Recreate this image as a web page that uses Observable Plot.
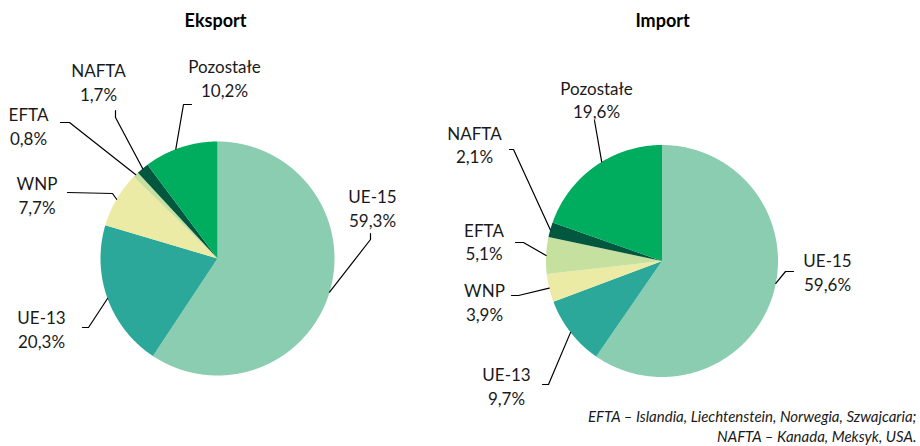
<!DOCTYPE html>
<html>
<head>
<meta charset="utf-8">
<script src="https://cdn.jsdelivr.net/npm/d3@7"></script>
<script src="https://cdn.jsdelivr.net/npm/@observablehq/plot@0.6"></script>
<style>
  html, body { margin: 0; padding: 0; background: #fff; }
  #chart svg { display: block; }
</style>
</head>
<body>
<div id="chart"></div>
<script>
// ---- data ----
const categories = ["UE-15", "UE-13", "WNP", "EFTA", "NAFTA", "Pozostałe"];
const exportValues = [59.3, 20.3, 7.7, 0.8, 1.7, 10.2];
const importValues = [59.6, 9.7, 3.9, 5.1, 2.1, 19.6];
const pieTitles = ["Eksport", "Import"];
const footnote = ["EFTA – Islandia, Liechtenstein, Norwegia, Szwajcaria;", "NAFTA – Kanada, Meksyk, USA."];

// ---- styles ----
const colors = ["#8bcdb1", "#2ca89a", "#ebeba5", "#c6e09f", "#01583f", "#00ad5f"];

// ---- layout (pixels) ----
const pieLayout = [
  { cx: 217, cy: 258, r: 117, titleX: 215, titleY: 21,
    labels: [
      { tx: 372, ty: 207, p: [[370, 233], [370, 239]] },
      { tx: 41, ty: 328, p: [[82, 327], [88, 327]] },
      { tx: 36.5, ty: 194, p: [[67, 192], [112, 193]] },
      { tx: 28, ty: 124.5, p: [[60, 122], [69, 122]] },
      { tx: 98, ty: 81, p: [[115, 110], [115, 117]] },
      { tx: 224, ty: 77, p: [[191, 104], [183, 104]], at: 0.942 }
    ] },
  { cx: 661.5, cy: 260.5, r: 116, titleX: 662, titleY: 21,
    labels: [
      { tx: 827, ty: 270.5, p: [[793, 271], [785, 271]], at: 0.281 },
      { tx: 506, ty: 384.7, p: [[542, 384], [548, 384]] },
      { tx: 484, ty: 301, p: [[511, 295], [518, 295]] },
      { tx: 483.5, ty: 240.3, p: [[515, 242], [523, 242]] },
      { tx: 474, ty: 143.3, p: [[509, 149], [513, 149]] },
      { tx: 596, ty: 98.3, p: [[594, 120]], at: 0.913 }
    ] }
];

const fmt = v => v.toFixed(1).replace(".", ",") + "%";
const seriesValues = [exportValues, importValues];

const slicePts = [];
const leaderPts = [];
const labels = [];
const titles = [];

seriesValues.forEach((vals, pi) => {
  const L = pieLayout[pi];
  const arcs = d3.pie().sort(null).value(d => d)(vals);
  titles.push({ x: L.titleX, y: L.titleY, text: pieTitles[pi] });
  arcs.forEach((a, i) => {
    const key = pi + "-" + i;
    const cat = categories[i];
    const pt = ang => [L.cx + L.r * Math.sin(ang), L.cy - L.r * Math.cos(ang)];
    slicePts.push({ key, cat, x: L.cx, y: L.cy });
    const n = Math.max(2, Math.ceil((a.endAngle - a.startAngle) / (Math.PI / 360)));
    for (let k = 0; k <= n; k++) {
      const ang = a.startAngle + (a.endAngle - a.startAngle) * k / n;
      const [x, y] = pt(ang);
      slicePts.push({ key, cat, x, y });
    }
    slicePts.push({ key, cat, x: L.cx, y: L.cy });
    const lab = L.labels[i];
    const endAng = lab.at != null ? lab.at * 2 * Math.PI : (a.startAngle + a.endAngle) / 2;
    const e = pt(endAng);
    lab.p.concat([e]).forEach(([x, y]) => leaderPts.push({ key, x, y }));
    labels.push({ x: lab.tx, y: lab.ty, text: cat + "\n" + fmt(vals[i]) });
  });
});

const font = "Lato, 'Open Sans', sans-serif";

const chart = Plot.plot({
  width: 920,
  height: 446,
  margin: 0,
  style: { fontFamily: font, background: "#fff" },
  x: { domain: [0, 920], range: [0, 920], axis: null },
  y: { domain: [0, 446], range: [0, 446], axis: null },
  color: { domain: categories, range: colors },
  marks: [
    Plot.line(slicePts, { x: "x", y: "y", z: "key", fill: "cat", stroke: "none", curve: "linear" }),
    Plot.line(leaderPts, { x: "x", y: "y", z: "key", stroke: "#000", strokeWidth: 1.2, fill: "none" }),
    Plot.text(labels, { x: "x", y: "y", text: "text", fontSize: 17, lineHeight: 1.4, fill: "#1a1a1a", textAnchor: "middle" }),
    Plot.text(titles, { x: "x", y: "y", text: "text", fontSize: 18, fontWeight: "bold", fill: "#000" }),
    Plot.text([footnote.join("\n")], { x: 916, y: 425, text: d => d, textAnchor: "end", fontSize: 15, fontStyle: "italic", lineHeight: 1.35, fill: "#1a1a1a" })
  ]
});
document.getElementById("chart").appendChild(chart);
</script>
</body>
</html>
